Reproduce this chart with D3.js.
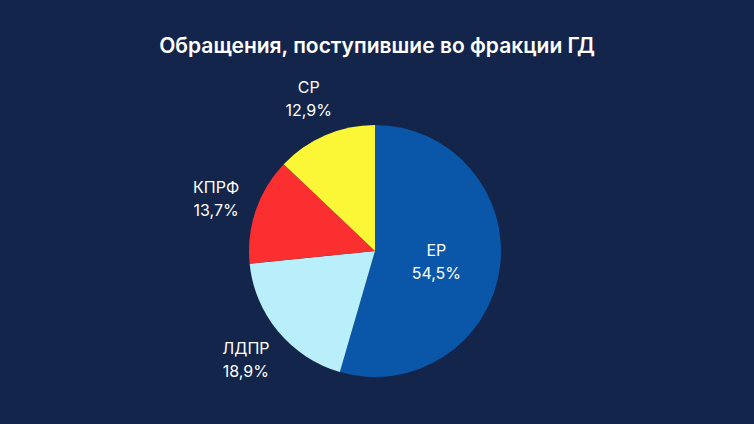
<!DOCTYPE html>
<html><head><meta charset="utf-8">
<script src="https://cdn.jsdelivr.net/npm/d3@7"></script>
<style>body{margin:0;background:#13254a;}</style>
</head><body>
<svg id="c" width="754" height="424"></svg>
<script>
const categories = ["ЕР","ЛДПР","КПРФ","СР"];
const values = [54.5, 18.9, 13.7, 12.9];
const labels = ["54,5%","18,9%","13,7%","12,9%"];
const colors = ["#0a56a8","#b9effb","#fb2f2f","#fcf736"];

const svg = d3.select("#c");
svg.append("rect").attr("width",754).attr("height",424).attr("fill","#13254a");
svg.append("text").attr("x",377).attr("y",53).attr("text-anchor","middle")
  .attr("fill","#fff").attr("font-family","Inter, 'Open Sans', sans-serif")
  .attr("font-size",21).attr("font-weight",600)
  .text("Обращения, поступившие во фракции ГД");

const cx=375, cy=251, R=126;
const g = svg.append("g").attr("transform",`translate(${cx},${cy})`);
const pie = d3.pie().sort(null).value(d=>d)(values);
const arc = d3.arc().innerRadius(0).outerRadius(R);
g.selectAll("path").data(pie).join("path").attr("d",arc).attr("fill",(d,i)=>colors[i]);

const inArc = d3.arc().innerRadius(62).outerRadius(62);
const outArc = d3.arc().innerRadius(168).outerRadius(168);
pie.forEach((d,i)=>{
  const [x,y] = (i===0?inArc:outArc).centroid(d);
  const t = g.append("text").attr("text-anchor","middle").attr("fill","#fff")
    .attr("font-family","Inter, 'Open Sans', sans-serif").attr("font-size",16);
  t.append("tspan").attr("x",x).attr("y",y-4).text(categories[i]);
  t.append("tspan").attr("x",x).attr("y",y+19).text(labels[i]);
});
</script>
</body></html>
